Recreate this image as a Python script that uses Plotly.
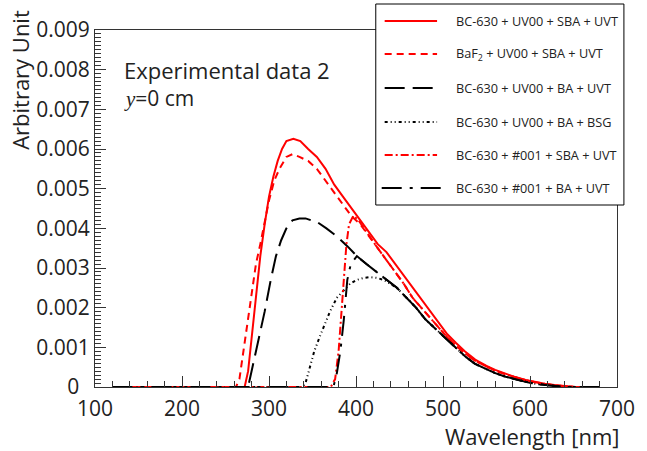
import plotly.graph_objects as go

# ---------------- data ----------------
names = [
    "BC-630 + UV00 + SBA + UVT",
    "BaF<sub>2</sub> + UV00 + SBA + UVT",
    "BC-630 + UV00 + BA + UVT",
    "BC-630 + UV00 + BA + BSG",
    "BC-630 + #001 + SBA + UVT",
    "BC-630 + #001 + BA + UVT",
]

wl_uv00_sba = [120, 272, 276, 280, 285, 290, 295, 300, 305, 310, 315, 320, 328, 336, 345, 355, 365, 375,
               385, 395, 405, 415, 425, 435, 445, 455, 465, 475, 485, 495, 505, 515, 525, 537, 550, 560,
               572, 583, 595, 606, 617, 628, 640, 652, 680]
val_uv00_sba = [0, 0, 0.0004, 0.0012, 0.0022, 0.0033, 0.0041, 0.0048, 0.0053, 0.0057, 0.0060, 0.0062,
                0.00626, 0.0062, 0.0060, 0.0058, 0.0055, 0.0051, 0.0048, 0.0045, 0.0042, 0.0039, 0.0036,
                0.0034, 0.0031, 0.0028, 0.0025, 0.0022, 0.0019, 0.0016, 0.00133, 0.00111, 0.00090,
                0.00069, 0.00053, 0.00043, 0.00033, 0.00025, 0.00018, 0.00013, 0.00008, 0.00005,
                0.00002, 0, 0]

wl_baf2 = [120, 262, 266, 270, 275, 280, 285, 290, 295, 300, 306, 312, 320, 327, 335, 345, 355, 365, 375,
           385, 395, 405, 415, 425, 435, 445, 455, 465, 475, 485, 495, 505, 515, 525, 537, 550, 560, 572,
           583, 595, 606, 617, 628, 640, 652, 680]
val_baf2 = [0, 0, 0.0002, 0.0008, 0.0016, 0.0024, 0.0031, 0.0036, 0.0042, 0.0047, 0.0052, 0.0055, 0.0058,
            0.00587, 0.0058, 0.0057, 0.0055, 0.0052, 0.0049, 0.0046, 0.0043, 0.0041, 0.0038, 0.0035,
            0.0032, 0.0029, 0.0026, 0.00225, 0.0020, 0.00175, 0.0015, 0.00125, 0.00104, 0.00085,
            0.00066, 0.00051, 0.00041, 0.00032, 0.00024, 0.00017, 0.00012, 0.00008, 0.00004, 0.00002,
            0, 0]

wl_uv00_ba = [120, 276, 282, 288, 295, 302, 308, 314, 320, 327, 335, 342, 348, 356, 366, 378, 390, 401,
              412, 424, 435, 447, 458, 469, 480, 492, 503, 515, 526, 537, 549, 560, 572, 583, 595, 606,
              617, 628, 640, 680]
val_uv00_ba = [0, 0, 0.0006, 0.0012, 0.0019, 0.0027, 0.0033, 0.0037, 0.0040, 0.0042, 0.00425, 0.00425,
               0.0042, 0.00415, 0.0040, 0.0038, 0.00355, 0.0033, 0.0031, 0.0029, 0.0027, 0.0025,
               0.00225, 0.0020, 0.0017, 0.00145, 0.00122, 0.00097, 0.00076, 0.00058, 0.00045, 0.00035,
               0.00026, 0.00019, 0.00013, 0.00008, 0.00005, 0.00002, 0, 0]

wl_bsg = [120, 338, 342, 347, 352, 358, 364, 370, 378, 386, 393, 401, 409, 416, 424, 432, 440, 447, 458,
          469, 480, 492, 503, 515, 526, 537, 549, 560, 572, 583, 595, 606, 617, 628, 640, 680]
val_bsg = [0, 0, 0.0001, 0.0005, 0.0009, 0.00125, 0.0016, 0.0019, 0.00225, 0.00245, 0.0026, 0.0027,
           0.00275, 0.00277, 0.00275, 0.0027, 0.0026, 0.0025, 0.00225, 0.0020, 0.0017, 0.00145,
           0.00122, 0.00097, 0.00076, 0.00058, 0.00045, 0.00035, 0.00026, 0.00019, 0.00013, 0.00008,
           0.00005, 0.00002, 0, 0]

wl_001_sba = [120, 371, 376, 380, 383, 386, 389, 392, 397, 403, 415, 425, 435, 445, 455, 465, 475, 485,
              495, 505, 515, 525, 537, 550, 560, 572, 583, 595, 606, 617, 628, 640, 652, 680]
val_001_sba = [0, 0, 0.0002, 0.0009, 0.0018, 0.0026, 0.0036, 0.0041, 0.00432, 0.0042, 0.0038, 0.0035,
               0.0032, 0.0029, 0.0026, 0.00225, 0.0020, 0.00175, 0.0015, 0.00125, 0.00104, 0.00085,
               0.00066, 0.00051, 0.00041, 0.00032, 0.00024, 0.00017, 0.00012, 0.00008, 0.00004,
               0.00002, 0, 0]

wl_001_ba = [120, 374, 378, 382, 386, 390, 394, 401, 412, 424, 435, 447, 458, 469, 480, 492, 503, 515,
             526, 537, 549, 560, 572, 583, 595, 606, 617, 628, 640, 680]
val_001_ba = [0, 0, 0.00035, 0.0009, 0.0017, 0.0027, 0.0031, 0.0033, 0.0031, 0.0029, 0.0027, 0.0025,
              0.00225, 0.0020, 0.0017, 0.00145, 0.00122, 0.00097, 0.00076, 0.00058, 0.00045, 0.00035,
              0.00026, 0.00019, 0.00013, 0.00008, 0.00005, 0.00002, 0, 0]

x_ticks = [100, 200, 300, 400, 500, 600, 700]
y_ticks = [0, 0.001, 0.002, 0.003, 0.004, 0.005, 0.006, 0.007, 0.008, 0.009]
y_ticktext = ["0\u2002", "0.001", "0.002", "0.003", "0.004", "0.005", "0.006", "0.007", "0.008", "0.009"]

# ---------------- styles ----------------
series = [
    (wl_uv00_sba, val_uv00_sba, "#ff0000", "solid"),
    (wl_baf2, val_baf2, "#ff0000", "7px,5px"),
    (wl_uv00_ba, val_uv00_ba, "#000000", "20px,8px"),
    (wl_bsg, val_bsg, "#000000", "3px,3px,1px,3px,1px,3px"),
    (wl_001_sba, val_001_sba, "#ff0000", "8px,3px,2px,3px"),
    (wl_001_ba, val_001_ba, "#000000", "20px,8px,3px,8px"),
]

FONT = "Open Sans"
W, H = 647, 451
L, R, T, B = 95, 24, 30, 64
PW, PH = W - L - R, H - T - B


def px(x):
    return (x - L) / PW


def py(y):
    return (H - B - y) / PH


fig = go.Figure()
for (xs, ys, col, dash), nm in zip(series, names):
    fig.add_trace(go.Scatter(x=xs, y=ys, mode="lines", name=nm,
                             line=dict(color=col, width=2, dash=dash), showlegend=False))

# legend box drawn by hand (ROOT-style)
shapes = [dict(type="rect", xref="paper", yref="paper", x0=px(379), x1=px(630), y0=py(205), y1=py(4),
               line=dict(color="black", width=1), fillcolor="white", layer="above")]
annotations = []
row_y = [21, 54, 88, 122, 155, 188]
for (xs, ys, col, dash), nm, ry in zip(series, names, row_y):
    x0, x1 = (385, 445) if dash.startswith("20px,8px,3px") else (388, 441)
    shapes.append(dict(type="line", xref="paper", yref="paper", x0=px(x0), x1=px(x1), y0=py(ry), y1=py(ry),
                       line=dict(color=col, width=2, dash=dash), layer="above"))
    annotations.append(dict(xref="paper", yref="paper", x=px(458), y=py(ry), xanchor="left",
                            yanchor="middle", showarrow=False, text=nm,
                            font=dict(family=FONT, size=12.7, color="#222")))

annotations += [
    dict(xref="paper", yref="paper", x=px(122), y=py(70), xanchor="left", yanchor="middle",
         showarrow=False, text="Experimental data 2", font=dict(family=FONT, size=22, color="#222")),
    dict(xref="paper", yref="paper", x=px(122), y=py(98), xanchor="left", yanchor="middle",
         showarrow=False,
         text='<span style="font-family:Liberation Serif"><i>y</i></span>=0 cm',
         font=dict(family=FONT, size=21, color="#222")),
    dict(xref="paper", yref="paper", x=px(19), y=py(8), xanchor="center", yanchor="top",
         textangle=-90, showarrow=False, text="Arbitrary Unit",
         font=dict(family=FONT, size=22, color="#222")),
    dict(xref="paper", yref="paper", x=px(628), y=py(436), xanchor="right", yanchor="middle",
         showarrow=False, text="Wavelength [nm]", font=dict(family=FONT, size=22, color="#222")),
]

fig.update_layout(
    width=W, height=H, margin=dict(l=L, r=R, t=T, b=B),
    paper_bgcolor="white", plot_bgcolor="white",
    shapes=shapes, annotations=annotations, showlegend=False,
    font=dict(family=FONT, color="#222"),
)
fig.update_xaxes(range=[100, 700], tickvals=x_ticks, ticks="inside", ticklen=11, tickwidth=1,
                 tickcolor="#333", showline=True, linecolor="#333", linewidth=1, mirror=True,
                 showgrid=False, zeroline=False, tickfont=dict(family=FONT, size=21, color="#222"),
                 ticklabelstandoff=3,
                 minor=dict(dtick=20, ticks="inside", ticklen=6, tickcolor="#333", showgrid=False))
fig.update_yaxes(range=[0, 0.009], tickvals=y_ticks, ticktext=y_ticktext, ticks="inside", ticklen=11,
                 tickwidth=1, tickcolor="#333", showline=True, linecolor="#333", linewidth=1, mirror=True,
                 showgrid=False, zeroline=False, tickfont=dict(family=FONT, size=21, color="#222"),
                 minor=dict(dtick=0.0001, ticks="inside", ticklen=6, tickcolor="#333", showgrid=False))

fig.write_html("out.html")
